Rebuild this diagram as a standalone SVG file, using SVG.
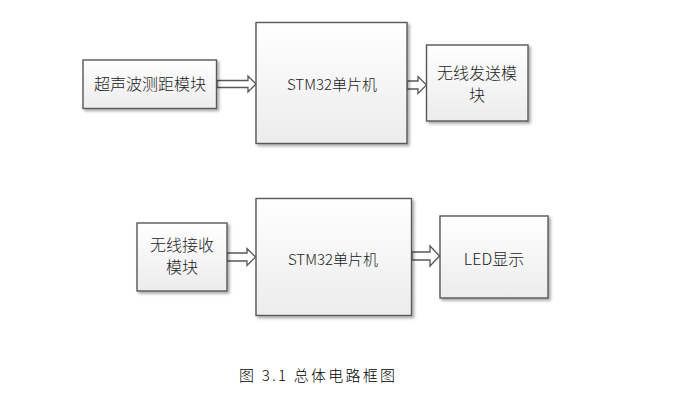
<svg xmlns="http://www.w3.org/2000/svg" width="673" height="404" viewBox="0 0 673 404">
<defs>
<linearGradient id="g" x1="0" y1="0" x2="0" y2="1">
<stop offset="0" stop-color="#ffffff"/>
<stop offset="1" stop-color="#ececec"/>
</linearGradient>
<filter id="sh" x="-10%" y="-10%" width="130%" height="130%">
<feGaussianBlur in="SourceAlpha" stdDeviation="1.5"/>
<feOffset dx="2" dy="2" result="b"/>
<feComponentTransfer><feFuncA type="linear" slope="0.35"/></feComponentTransfer>
<feMerge><feMergeNode/><feMergeNode in="SourceGraphic"/></feMerge>
</filter>
</defs>
<style>
.box{fill:url(#g);stroke:#585858;stroke-width:1.4;filter:url(#sh)}
.arr{fill:#ffffff;stroke:#585858;stroke-width:1.3;stroke-linejoin:miter}
.t{font-family:"Noto Sans CJK SC","Microsoft YaHei",sans-serif;font-size:16px;font-weight:300;fill:#222;text-anchor:middle}
.s{font-family:"Noto Sans CJK SC","Microsoft YaHei",sans-serif;font-size:15px;font-weight:300;fill:#222;text-anchor:middle}
.cap{font-family:"Noto Sans CJK SC","SimSun",sans-serif;font-size:15px;font-weight:300;fill:#000}
</style>
<rect width="673" height="404" fill="#ffffff"/>
<g id="connectors">
<path class="arr" d="M217,80.5 H248 V76 L256,84 L248,92 V87.5 H217 Z"/>
<path class="arr" d="M407,81 H418 V76.5 L426.5,85 L418,93.5 V89 H407 Z"/>
<path class="arr" d="M227,253 H247 V248.5 L255.5,257 L247,265.5 V261 H227 Z"/>
<path class="arr" d="M412,252 H430 V246 L439.5,256 L430,266 V260 H412 Z"/>
</g>
<g id="n1">
<rect class="box" x="83" y="60" width="133.5" height="48.5"/>
<text class="t" x="150" y="90">超声波测距模块</text>
</g>
<g id="n2">
<rect class="box" x="256" y="22.5" width="151" height="121"/>
<text class="s" x="332" y="90">STM32单片机</text>
</g>
<g id="n3">
<rect class="box" x="426.5" y="45" width="101.5" height="76"/>
<text class="t" x="477" y="79">无线发送模</text>
<text class="t" x="477" y="101">块</text>
</g>
<g id="n4">
<rect class="box" x="137" y="223" width="90" height="68"/>
<text class="t" x="182" y="251">无线接收</text>
<text class="t" x="182" y="273">模块</text>
</g>
<g id="n5">
<rect class="box" x="256" y="198.5" width="155.5" height="117"/>
<text class="s" x="333" y="265">STM32单片机</text>
</g>
<g id="n6">
<rect class="box" x="440" y="216" width="108" height="82"/>
<text class="t" x="494" y="265">LED显示</text>
</g>
<text class="cap" x="239" y="381" textLength="156" lengthAdjust="spacing">图 3.1 总体电路框图</text>
</svg>
